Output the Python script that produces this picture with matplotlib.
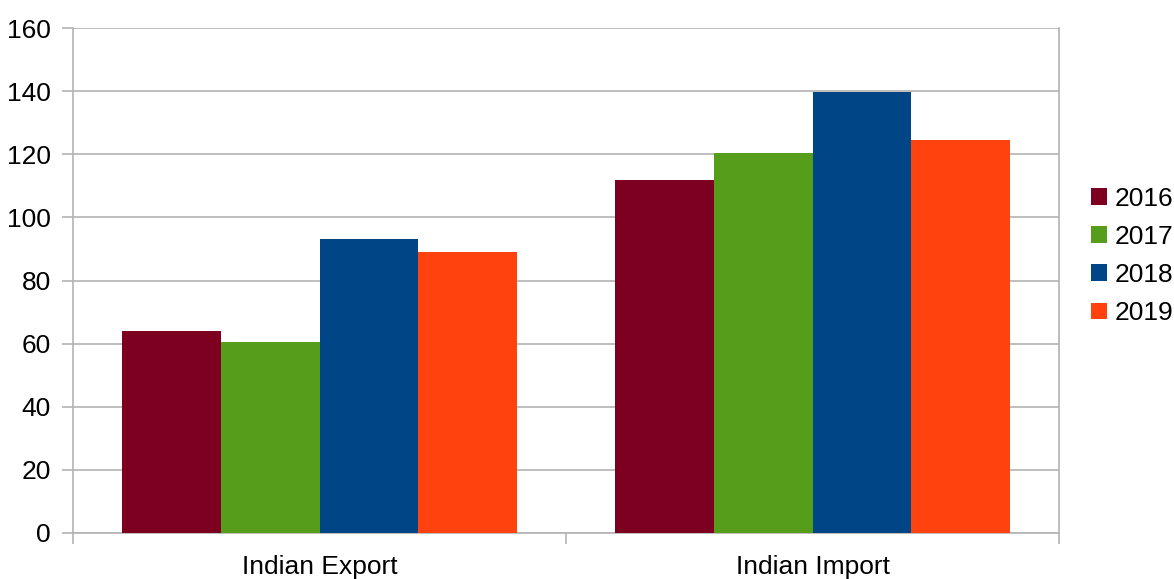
import numpy as np
import matplotlib.pyplot as plt

plt.rcParams['font.family'] = ['Liberation Sans', 'DejaVu Sans']

categories = ['Indian Export', 'Indian Import']
years = ['2016', '2017', '2018', '2019']
values_2016 = [64.0, 111.9]
values_2017 = [60.5, 120.4]
values_2018 = [93.2, 139.7]
values_2019 = [89.0, 124.5]
series = [values_2016, values_2017, values_2018, values_2019]
colors = ['#7e0021', '#579d1c', '#004586', '#ff420e']

fig = plt.figure(figsize=(11.74, 5.79), dpi=100)
ax = fig.add_axes([73 / 1174, 1 - 533 / 579, (1059 - 73) / 1174, (533 - 28) / 579])

x = np.arange(len(categories))
width = 0.2
for i, (vals, year, col) in enumerate(zip(series, years, colors)):
    ax.bar(x + (i - 1.5) * width, vals, width, color=col, label=year, zorder=3)

ax.set_xlim(-0.5, len(categories) - 0.5)
ax.set_ylim(0, 160)
ax.set_yticks(np.arange(0, 161, 20))
ax.set_xticks(x)
ax.set_xticklabels(categories)
ax.set_xticks(np.arange(-0.5, len(categories), 1.0), minor=True)

grid_col = '#b3b3b3'
ax.yaxis.grid(True, color=grid_col, linewidth=1.2, zorder=0)
ax.tick_params(axis='x', which='major', length=0, pad=16, labelsize=19)
ax.tick_params(axis='x', which='minor', length=8, color=grid_col, width=1.2)
ax.tick_params(axis='y', length=8, color=grid_col, width=1.2, pad=8, labelsize=19)

ax.spines['top'].set_visible(False)
for s in ['left', 'right', 'bottom']:
    ax.spines[s].set_color(grid_col)
    ax.spines[s].set_linewidth(1.2)

leg = ax.legend(loc='center left', bbox_to_anchor=(1.0325, 0.5485), frameon=False,
                fontsize=19, handlelength=0.6, handleheight=0.6,
                handletextpad=0.3, labelspacing=0.54, borderaxespad=0, borderpad=0)

fig.savefig('out.png', dpi=100)
